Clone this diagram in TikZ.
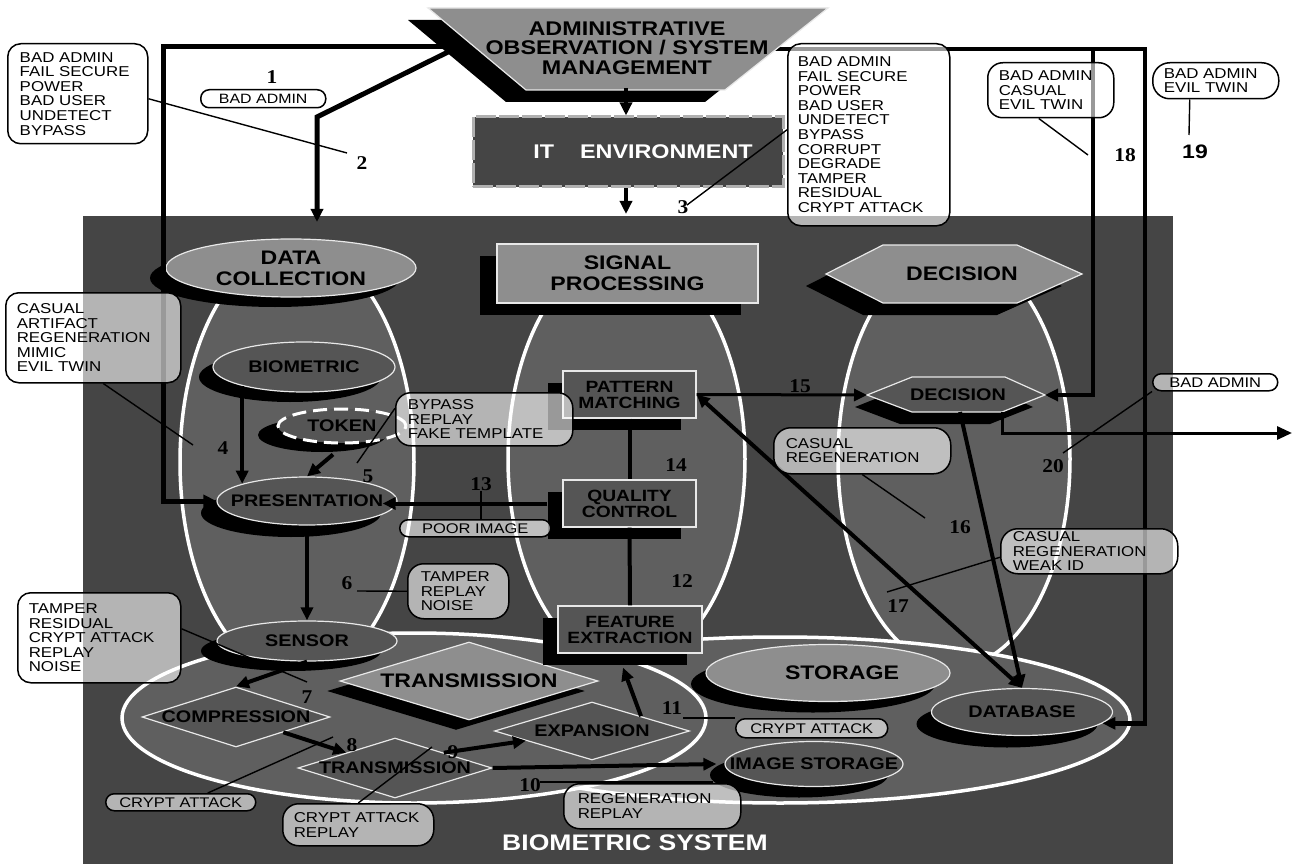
\documentclass[tikz,border=0pt]{standalone}
\usepackage{fontspec}
\setmainfont{Liberation Sans}[FakeStretch=1.18]
\newfontfamily\numfont{Liberation Serif}[FakeStretch=1.1]
\usetikzlibrary{shapes.geometric,shadows,arrows.meta}
\newcommand{\myfs}[2]{\fontsize{#1}{#2}\selectfont}
\newcommand{\zb}[1]{\makebox[0pt]{#1}}
\definecolor{bggray}{HTML}{454545}
\definecolor{colgray}{HTML}{5F5F5F}
\definecolor{hdrgray}{HTML}{8E8E8E}
\definecolor{inngray}{HTML}{555555}
\definecolor{edgegray}{HTML}{E8E8E8}
\definecolor{itdash}{HTML}{B0B0B0}
\tikzset{
 shad/.style 2 args={drop shadow={shadow xshift=#1pt,shadow yshift=#2pt,opacity=1,fill=black}},
 hdr/.style={fill=hdrgray,draw=edgegray,line width=1.2pt,font=\bfseries\myfs{19.6}{21},align=center,inner sep=0pt,text=black},
 hdrshape/.style={fill=hdrgray,draw=edgegray,line width=1.2pt},
 hdrtext/.style={font=\bfseries\myfs{19.6}{21},inner sep=0pt,text=black},
 inn/.style={fill=inngray,draw=edgegray,line width=1.2pt,font=\bfseries\myfs{16.8}{17},inner sep=0pt,text=black},
 innshape/.style={fill=inngray,draw=edgegray,line width=1.2pt},
 inntext/.style={font=\bfseries\myfs{16.8}{17},inner sep=0pt,text=black},
 colE/.style={fill=colgray,draw=white,line width=3.5pt},
 arrtip/.style={-{Triangle[length=13pt,width=12pt]}},
 arr/.style={line width=4pt,arrtip},
 conn/.style={line width=4pt},
 adm/.style={line width=5pt},
 ldr/.style={line width=1.4pt},
 cbox/.style={draw=black,line width=1.5pt,fill=white,fill opacity=0.6,text opacity=1,rounded corners=13pt,anchor=north west,align=left,inner ysep=0pt,font=\myfs{14.3}{14.6}},
 pill/.style={draw=black,line width=1.5pt,fill=white,fill opacity=0.6,text opacity=1,rounded corners=8.5pt,anchor=north west,inner sep=0pt,font=\myfs{14}{14}},
 numlab/.style={font=\numfont\bfseries\myfs{19.5}{20},inner sep=0pt,text=black},
}
\begin{document}
\begin{tikzpicture}[x=1pt,y=-1pt]
\useasboundingbox (0,0) rectangle (1294,864);
\fill[white] (0,0) rectangle (1294,864);
\fill[bggray] (83,216) rectangle (1173,864);

% column and lower ellipses
\draw[colE] (297,462) ellipse [x radius=117,y radius=215];
\draw[colE] (626.5,459) ellipse [x radius=118.5,y radius=207];
\draw[colE] (954,459) ellipse [x radius=116,y radius=208];
\draw[colE] (780,720) ellipse [x radius=350,y radius=83];
\draw[colE] (414,718) ellipse [x radius=292,y radius=85];

% header shapes
\node[hdr,ellipse,minimum width=250,minimum height=58,shad={-16}{-10}] (dc) at (291,268) {DATA\\COLLECTION};
\node[hdr,rectangle,minimum width=261,minimum height=59,shad={-17}{-12}] (sp) at (627.5,273.5) {SIGNAL\\PROCESSING};
\fill[black] (806,286) -- (863,257) -- (997,257) -- (1062,286) -- (997,315) -- (863,315) -- cycle;
\draw[hdrshape] (826,274) -- (883,245) -- (1017,245) -- (1082,274) -- (1017,303) -- (883,303) -- cycle;
\node[hdrtext] (dech) at (962,274) {DECISION};
\node[hdr,ellipse,minimum width=244,minimum height=57,shad={-15}{-11}] (stor) at (828,673) {\zb{\hspace*{28pt}STORAGE}};
\node[hdr,diamond,aspect=3.3,minimum width=258,minimum height=78,shad={-13}{-10}] (txb) at (469,681) {\zb{TRANSMISSION}};

% inner nodes
\node[inn,ellipse,minimum width=182,minimum height=50,shad={-14}{-10}] (bio) at (304,367) {\zb{BIOMETRIC}};
\node[inn,ellipse,draw=white,line width=3pt,dash pattern=on 14pt off 7pt,minimum width=128,minimum height=34,shad={-20}{-9}] (tok) at (342,426) {\zb{TOKEN}};
\node[inn,ellipse,minimum width=180,minimum height=48,shad={-16}{-12}] (pres) at (307,501) {\zb{PRESENTATION}};
\node[inn,ellipse,minimum width=180,minimum height=40,shad={-16}{-10}] (sen) at (307,641) {\zb{SENSOR}};
\node[inn,diamond,aspect=3.1,minimum width=188,minimum height=60] (comp) at (236,717) {\zb{COMPRESSION}};
\node[inn,diamond,aspect=3.2,minimum width=194,minimum height=60] (tx) at (395,768) {\zb{TRANSMISSION}};
\node[inn,diamond,aspect=3.3,minimum width=195,minimum height=58] (exp) at (592,731) {\zb{EXPANSION}};
\node[inn,rectangle,align=center,minimum width=133,minimum height=47,shad={-15}{-12},font=\bfseries\myfs{16.3}{16}] (pm) at (629.5,394.5) {PATTERN\\MATCHING};
\node[inn,rectangle,align=center,minimum width=133,minimum height=47,shad={-15}{-12},font=\bfseries\myfs{16.3}{16}] (qc) at (629.5,503.5) {QUALITY\\CONTROL};
\node[inn,rectangle,align=center,minimum width=144,minimum height=47,shad={-15}{-12},font=\bfseries\myfs{16.3}{16}] (fe) at (630,629.5) {FEATURE\\EXTRACTION};
\fill[black] (855,407) -- (900,389) -- (993,389) -- (1033,407) -- (990,424) -- (900,424) -- cycle;
\draw[innshape] (867,395) -- (912,377) -- (1005,377) -- (1045,395) -- (1002,412) -- (912,412) -- cycle;
\node[inntext] (dec) at (958,395) {DECISION};
\coordinate (decL) at (867,395);
\coordinate (decR) at (1045,395);
\coordinate (decB) at (960,412);
\coordinate (decBR) at (1002,412);
\node[inn,ellipse,minimum width=178,minimum height=45,shad={-15}{-11}] (imgs) at (814,764) {\zb{IMAGE STORAGE}};
\node[inn,ellipse,minimum width=181,minimum height=47,shad={-15}{-12}] (db) at (1022,712) {\zb{DATABASE}};

% administrative lines
\coordinate (admL) at (452,47);
\coordinate (admL2) at (452,50);
\coordinate (admR) at (770,49);
\coordinate (c163) at (163,47);
\coordinate (k2) at (317,117);
\coordinate (dcin) at (317,222);
\coordinate (r18) at (1093,49);
\coordinate (r19) at (1145,49);
\draw[adm,arrtip] (admL) -- (c163) |- (pres.west);
\draw[adm,arrtip] (admL2) -- (k2) -- (dcin);
\draw[line width=4.5pt,arrtip] (admR) -- (r19) |- (db.-8);
\draw[line width=4.5pt,arrtip] (r18) |- (decR);

% administrative trapezoid and IT environment
\fill[black] (408,20) -- (808,20) -- (705,102) -- (506,102) -- cycle;
\draw[hdrshape] (428,8) -- (828,8) -- (725,90) -- (526,90) -- cycle;
\node[font=\bfseries\myfs{19.8}{19.8},align=center,inner sep=0pt] (adm) at (627,48) {ADMINISTRATIVE\\OBSERVATION / SYSTEM\\MANAGEMENT};
\node[fill=bggray,draw=itdash,line width=3pt,dash pattern=on 20pt off 3pt,minimum width=310,minimum height=70,inner sep=0pt,font=\bfseries\myfs{19.8}{20},text=white] (it) at (628,152) {\hspace*{30pt}IT\hspace{26pt}ENVIRONMENT};
\coordinate (admB) at (626,88);
\coordinate (itout) at (626,214);
\draw[arr] (admB) -- (admB |- it.north);
\draw[arr] (it.south -| itout) -- (itout);

% internal connectors
\draw[arr] (bio.197) -- (bio.197 |- pres.165);
\draw[arr] ([xshift=-9pt,yshift=-10pt]tok.south) -- (pres.north);
\draw[arr] (pres.south) -- (sen.north);
\draw[arr] (sen.south) -- (comp.north);
\draw[arr] (comp.south east) -- (tx.north west);
\draw[arr] (tx.north east) -- (exp);
\draw[arr] (tx.east) -- ([xshift=-8pt]imgs.west);
\draw[arr] (exp.north east) -- ([xshift=-7pt,yshift=-14pt]fe.south);
\draw[conn] (qc.south) -- (fe.north);
\draw[conn] (pm.south) -- (qc.north);
\draw[arr] ([xshift=-15pt]qc.west) -- ([xshift=-15pt]qc.west -| pres.east);
\draw[line width=3pt,arrtip] (pm.east) -- (decL);
\draw[line width=4pt,{Triangle[length=13pt,width=12pt]}-{Triangle[length=13pt,width=12pt]}] (pm.east) -- (db.north);
\draw[arr] (decB) -- (db.north);
\coordinate (outR) at (1292,433);
\draw[line width=3pt,-{Triangle[length=15pt,width=13pt]}] (decBR) |- (outR);

% callouts
\node[cbox,text width=116pt,inner xsep=12pt,minimum height=100pt] (c2) at (7,43) {BAD ADMIN\\FAIL SECURE\\POWER\\BAD USER\\UNDETECT\\BYPASS};
\node[pill,minimum width=125,minimum height=18,font=\myfs{13.5}{14}] (c1) at (200,89) {BAD ADMIN};
\node[cbox,text width=142pt,inner xsep=10pt,minimum height=182pt] (c3) at (787,43) {BAD ADMIN\\FAIL SECURE\\POWER\\BAD USER\\UNDETECT\\BYPASS\\CORRUPT\\DEGRADE\\TAMPER\\RESIDUAL\\CRYPT ATTACK};
\node[cbox,text width=104pt,inner xsep=11pt,minimum height=55pt,rounded corners=15pt] (c18) at (987,62) {BAD ADMIN\\CASUAL\\EVIL TWIN};
\node[cbox,text width=104pt,inner xsep=11pt,minimum height=36pt,rounded corners=17pt] (c19) at (1152,62) {BAD ADMIN\\EVIL TWIN};
\node[cbox,text width=153pt,inner xsep=11pt,minimum height=90pt] (c4) at (5,292) {CASUAL\\ARTIFACT\\REGENERATION\\MIMIC\\EVIL TWIN};
\node[cbox,text width=153pt,inner xsep=12pt,minimum height=53pt,rounded corners=15pt] (c5) at (395,392) {BYPASS\\REPLAY\\FAKE TEMPLATE};
\node[pill,minimum width=151,minimum height=17] (c13) at (399,519) {POOR IMAGE};
\node[cbox,text width=75pt,inner xsep=13pt,minimum height=55pt,rounded corners=16pt] (c6) at (407,563) {TAMPER\\REPLAY\\NOISE};
\node[cbox,text width=141pt,inner xsep=11pt,minimum height=90pt] (c7) at (17,592) {TAMPER\\RESIDUAL\\CRYPT ATTACK\\REPLAY\\NOISE};
\node[pill,minimum width=150,minimum height=17] (c8) at (105,793) {CRYPT ATTACK};
\node[cbox,text width=129pt,inner xsep=11pt,minimum height=42pt,rounded corners=16pt] (c9) at (282,803) {CRYPT ATTACK\\REPLAY};
\node[cbox,text width=149pt,inner xsep=14pt,minimum height=45pt,rounded corners=16pt] (c10) at (563,783) {REGENERATION\\REPLAY};
\node[pill,minimum width=152,minimum height=19,rounded corners=9.5pt] (c11) at (735,718) {CRYPT ATTACK};
\node[cbox,text width=153pt,inner xsep=12pt,minimum height=46pt,rounded corners=17pt] (c16) at (773,427) {CASUAL\\REGENERATION};
\node[cbox,text width=153pt,inner xsep=12pt,minimum height=45pt,rounded corners=17pt] (c17) at (1000,528) {CASUAL\\REGENERATION\\WEAK ID};
\node[pill,minimum width=125,minimum height=17] (c20) at (1152,373) {BAD ADMIN};

% numbers
\node[numlab] (n1) at (272,77) {1};
\node[numlab] (n2) at (362,163) {2};
\node[numlab] (n3) at (683,207) {3};
\node[numlab] (n4) at (223,448) {4};
\node[numlab] (n5) at (368,476) {5};
\node[numlab] (n6) at (347,583) {6};
\node[numlab] (n7) at (307,697) {7};
\node[numlab] (n8) at (352,745) {8};
\node[numlab] (n9) at (453,752) {9};
\node[numlab] (n10) at (530,785) {10};
\node[numlab] (n11) at (672,708) {11};
\node[numlab] (n12) at (682,581) {12};
\node[numlab] (n13) at (481,484) {13};
\node[numlab] (n14) at (676,465) {14};
\node[numlab] (n15) at (800,386) {15};
\node[numlab] (n16) at (960,527) {16};
\node[numlab] (n17) at (898,606) {17};
\node[numlab] (n18) at (1125,155) {18};
\node[font=\bfseries\myfs{19.5}{20},inner sep=0pt] (n19) at (1195,152) {19};
\node[numlab] (n20) at (1053,466) {20};

% leaders
\coordinate (e2) at (347,153);
\coordinate (e3) at (687,205);
\coordinate (e4) at (193,445);
\coordinate (e5) at (357,463);
\coordinate (e6) at (357,591);
\coordinate (e7) at (307,682);
\coordinate (e8) at (333,737);
\coordinate (e9) at (432,747);
\coordinate (e10a) at (540,782);
\coordinate (e10b) at (713,782);
\coordinate (e11) at (683,718);
\coordinate (e16) at (925,518);
\coordinate (e17) at (887,592);
\coordinate (e18) at (1088,155);
\coordinate (e19) at (1189,135);
\coordinate (e20) at (1063,453);
\draw[ldr] ([yshift=-5pt]c2.east) -- (e2);
\draw[ldr] ([yshift=5pt]c3.west) -- (e3);
\draw[ldr] ([xshift=10pt]c4.south) -- (e4);
\draw[ldr] ([yshift=11pt]c5.west) -- (e5);
\draw[ldr] (c6.west) -- (e6);
\draw[ldr] ([yshift=9pt]c7.east) -- (e7);
\draw[ldr] ([xshift=27pt]c8.north) -- (e8);
\draw[ldr] (c9.north) -- (e9);
\draw[ldr] (e10a) -- (e10b);
\draw[ldr] (e11) -- (c11.north west);
\draw[ldr] (n13.south) -- (n13.south |- c13.north);
\draw[ldr] (c16.south) -- (e16);
\draw[ldr] ([yshift=-6pt]c17.west) -- (e17);
\draw[ldr] ([xshift=-12pt]c18.south) -- (e18);
\draw[ldr] ([xshift=-26pt]c19.south) -- (e19);
\draw[ldr] (c20.south west) -- (e20);

\node[font=\bfseries\myfs{22.5}{22},text=white,inner sep=0pt] (bs) at (635,843) {BIOMETRIC SYSTEM};
\end{tikzpicture}
\end{document}
